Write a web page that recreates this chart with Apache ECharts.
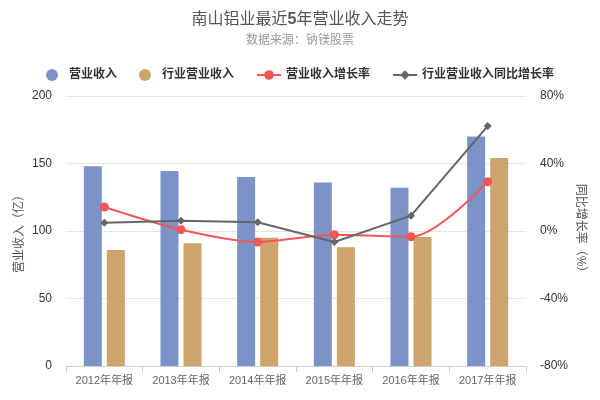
<!DOCTYPE html>
<html><head><meta charset="utf-8">
<script src="https://cdn.jsdelivr.net/npm/echarts@6/dist/echarts.min.js"></script>
<style>html,body{margin:0;padding:0;background:#fff}#c{width:600px;height:400px}</style>
</head><body><div id="c"></div>
<script>
var categories = ['2012年年报','2013年年报','2014年年报','2015年年报','2016年年报','2017年年报'];
var revenue = [148, 144.5, 140, 136, 132, 170];
var industryRevenue = [86, 91, 95, 88, 95.5, 154];
var revenueGrowth = [14.2, 0.8, -6.5, -2.2, -3.4, 29.2];
var industryGrowth = [4.9, 6.1, 5.2, -6.5, 9.1, 62.2];
var leftTicks = [0, 50, 100, 150, 200];
var rightTicks = [-80, -40, 0, 40, 80];

var font = '"Liberation Sans", "Noto Sans CJK SC", sans-serif';
var chart = echarts.init(document.getElementById('c'));
chart.setOption({
  animation: false,
  textStyle: {fontFamily: font},
  title: {
    text: '南山铝业最近{b|5}年营业收入走势',
    subtext: '数据来源：钠镁股票',
    left: 'center', top: 7, itemGap: 7,
    textStyle: {fontSize: 16, fontWeight: 'normal', color: '#555', fontFamily: font,
      rich: {b: {fontSize: 16, fontWeight: 'bold', color: '#555', fontFamily: font}}},
    subtextStyle: {fontSize: 12, color: '#999', fontFamily: font}
  },
  legend: {
    top: 64, left: 'center', itemGap: 22, itemWidth: 24, itemHeight: 12,
    textStyle: {fontSize: 12, fontWeight: 'bold', color: '#333', fontFamily: font},
    data: [
      {name: '营业收入', icon: 'circle'},
      {name: '行业营业收入', icon: 'circle'},
      {name: '营业收入增长率'},
      {name: '行业营业收入同比增长率'}
    ]
  },
  grid: {left: 66, right: 74, top: 96, bottom: 34},
  xAxis: {
    type: 'category', data: categories,
    axisLine: {lineStyle: {color: '#ccc'}},
    axisTick: {show: true, length: 6, lineStyle: {color: '#ccc'}},
    axisLabel: {color: '#666', fontSize: 11, margin: 9, interval: 0}
  },
  yAxis: [
    {
      type: 'value', min: leftTicks[0], max: leftTicks[leftTicks.length-1], interval: 50,
      name: '营业收入（亿）', nameLocation: 'middle', nameGap: 40, nameRotate: 90, nameMoveOverlap: false,
      nameTextStyle: {color: '#555', fontSize: 12},
      axisLine: {show: false}, axisTick: {show: false},
      axisLabel: {color: '#333', fontSize: 12, margin: 14},
      splitLine: {lineStyle: {color: '#e6e6e6'}}
    },
    {
      type: 'value', min: rightTicks[0], max: rightTicks[rightTicks.length-1], interval: 40,
      name: '同比增长率（%）', nameLocation: 'middle', nameGap: 48, nameRotate: -90, nameMoveOverlap: false,
      nameTextStyle: {color: '#555', fontSize: 12},
      axisLine: {show: false}, axisTick: {show: false},
      axisLabel: {color: '#333', fontSize: 12, margin: 14, formatter: '{value}%'},
      splitLine: {show: false}
    }
  ],
  series: [
    {name: '营业收入', type: 'bar', data: revenue, barWidth: 18, barGap: '28%', itemStyle: {color: '#7b93c8'}},
    {name: '行业营业收入', type: 'bar', data: industryRevenue, barWidth: 18, itemStyle: {color: '#cda46c'}},
    {name: '营业收入增长率', type: 'line', yAxisIndex: 1, data: revenueGrowth, smooth: 0.3,
      symbol: 'circle', symbolSize: 9, itemStyle: {color: '#f25656'}, lineStyle: {width: 2, color: '#f25656'}},
    {name: '行业营业收入同比增长率', type: 'line', yAxisIndex: 1, data: industryGrowth,
      symbol: 'diamond', symbolSize: 8, itemStyle: {color: '#666'}, lineStyle: {width: 2, color: '#666'}}
  ]
});
</script></body></html>
